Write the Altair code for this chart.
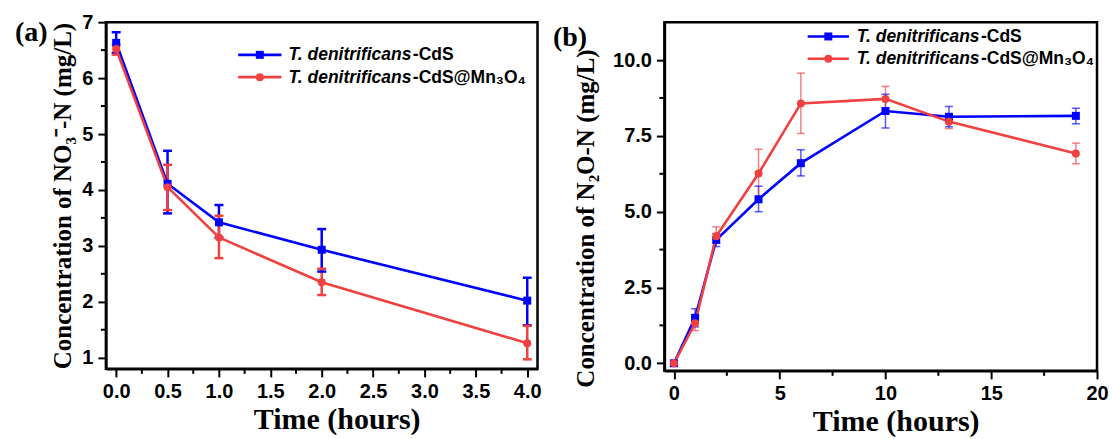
import altair as alt
import pandas as pd

# ---------------- data ----------------
series_names = ["T. denitrificans-CdS", "T. denitrificans-CdS@Mn₃O₄"]
legend_italic = "T. denitrificans"
legend_suffix = ["-CdS", "-CdS@Mn₃O₄"]
series_colors = ["#0000FF", "#F04040"]
series_shapes = ["square", "circle"]

# panel (a): NO3- -N
a_time = [0, 0.5, 1, 2, 4]
a_cds = [6.63, 4.11, 3.42, 2.93, 2.02]
a_cds_lo = [6.45, 3.58, 3.15, 2.54, 1.58]
a_cds_hi = [6.82, 4.70, 3.73, 3.30, 2.43]
a_mn = [6.52, 4.05, 3.15, 2.35, 1.26]
a_mn_lo = [6.42, 3.64, 2.78, 2.12, 0.97]
a_mn_hi = [6.60, 4.45, 3.54, 2.59, 1.57]

# panel (b): N2O-N
b_time = [0, 1, 2, 4, 6, 10, 13, 19]
b_cds = [0.0, 1.50, 4.07, 5.41, 6.60, 8.32, 8.13, 8.16]
b_cds_lo = [-0.08, 1.20, 3.85, 5.00, 6.18, 7.76, 7.80, 7.90]
b_cds_hi = [0.08, 1.80, 4.28, 5.84, 7.04, 8.87, 8.47, 8.41]
b_mn = [0.0, 1.32, 4.19, 6.26, 8.57, 8.72, 7.97, 6.92]
b_mn_lo = [-0.06, 1.08, 3.95, 5.46, 7.58, 8.30, 7.74, 6.58]
b_mn_hi = [0.06, 1.56, 4.50, 7.06, 9.57, 9.13, 8.22, 7.26]

# tick values
a_x_major = [0, 0.5, 1.0, 1.5, 2.0, 2.5, 3.0, 3.5, 4.0]
a_x_minor = [0.25, 0.75, 1.25, 1.75, 2.25, 2.75, 3.25, 3.75]
a_y_major = [1, 2, 3, 4, 5, 6, 7]
a_y_minor = [1.5, 2.5, 3.5, 4.5, 5.5, 6.5]
b_x_major = [0, 5, 10, 15, 20]
b_x_minor = [2.5, 7.5, 12.5, 17.5]
b_y_major = [0, 2.5, 5.0, 7.5, 10.0]
b_y_minor = [1.25, 3.75, 6.25, 8.75]

a_y_title = "Concentration of NO₃⁻-N (mg/L)"
b_y_title = "Concentration of N₂O-N (mg/L)"
x_title = "Time (hours)"
panel_tags = ["(a)", "(b)"]


def long_df(t, s1, l1, h1, s2, l2, h2):
    rows = []
    for name, v, lo, hi in [(series_names[0], s1, l1, h1), (series_names[1], s2, l2, h2)]:
        for i in range(len(t)):
            rows.append({"t": t[i], "v": v[i], "lo": lo[i], "hi": hi[i], "s": name})
    return pd.DataFrame(rows)


def panel(df, xdom, ydom, xmajor, xminor, ymajor, yminor, xfmt, yfmt, w, h,
          ytitle, ytitle_y, ytitle_pad, err_w, err_op, cap_size,
          tag, tag_x, tag_y, leg_x1, leg_x2, leg_y, text_x):
    xaxis = alt.Axis(
        values=xmajor, format=xfmt, tickSize=8,
        title=x_title, titleFontSize=30, titleX=w / 2 + 15, titlePadding=3,
        labelPadding=5, labelFlush=False, labelOverlap=False, grid=False,
    )
    yaxis = alt.Axis(
        values=ymajor, format=yfmt, tickSize=8,
        title=ytitle, titleFontSize=25, titleY=ytitle_y, titlePadding=ytitle_pad,
        labelPadding=5, labelFlush=False, labelOverlap=False, grid=False,
    )
    xs = alt.Scale(domain=xdom, nice=False, zero=False)
    ys = alt.Scale(domain=ydom, nice=False, zero=False)

    def X():
        return alt.X("t:Q", scale=xs, axis=xaxis)

    def Y(f):
        return alt.Y(f"{f}:Q", scale=ys, axis=yaxis)

    color = alt.Color("s:N", scale=alt.Scale(domain=series_names, range=series_colors), legend=None)
    shape = alt.Shape("s:N", scale=alt.Scale(domain=series_names, range=series_shapes), legend=None)

    base = alt.Chart(df)
    lines = base.mark_line(strokeWidth=2.6).encode(x=X(), y=Y("v"), color=color, order="t:Q")
    errs = base.mark_rule(strokeWidth=err_w, opacity=err_op).encode(x=X(), y=Y("lo"), y2="hi:Q", color=color)
    cap_lo = base.mark_point(shape="M-1,0L1,0", filled=False, size=cap_size, strokeWidth=err_w,
                             opacity=err_op).encode(x=X(), y=Y("lo"), color=color)
    cap_hi = base.mark_point(shape="M-1,0L1,0", filled=False, size=cap_size, strokeWidth=err_w,
                             opacity=err_op).encode(x=X(), y=Y("hi"), color=color)
    pts = base.mark_point(filled=True, size=64, opacity=1).encode(x=X(), y=Y("v"), color=color, shape=shape)

    # minor ticks (outward, shorter than the major ones)
    xminor_layer = alt.Chart(pd.DataFrame({"t": xminor})).mark_rule(color="black", strokeWidth=2).encode(
        x=X(), y=alt.value(h), y2=alt.value(h + 5))
    yminor_layer = alt.Chart(pd.DataFrame({"v": yminor})).mark_rule(color="black", strokeWidth=2).encode(
        y=Y("v"), x=alt.value(0), x2=alt.value(-5))

    one = pd.DataFrame({"k": [0]})
    legend_layers = []
    for i in range(2):
        yv = leg_y[i]
        legend_layers.append(
            alt.Chart(one).mark_rule(color=series_colors[i], strokeWidth=2.6).encode(
                x=alt.value(leg_x1), x2=alt.value(leg_x2), y=alt.value(yv)))
        legend_layers.append(
            alt.Chart(one).mark_point(color=series_colors[i], filled=True, opacity=1, size=64,
                                      shape=series_shapes[i]).encode(
                x=alt.value((leg_x1 + leg_x2) / 2), y=alt.value(yv)))
        legend_layers.append(
            alt.Chart(one).mark_text(align="left", baseline="middle", font="Liberation Sans",
                                     fontSize=17.5, fontWeight="bold", fontStyle="italic",
                                     color="black").encode(
                x=alt.value(text_x), y=alt.value(yv + 0.5), text=alt.value(legend_italic)))
        legend_layers.append(
            alt.Chart(one).mark_text(align="left", baseline="middle", font="Liberation Sans",
                                     fontSize=17.5, fontWeight="bold", color="black").encode(
                x=alt.value(text_x + 124.5), y=alt.value(yv + 0.5), text=alt.value(legend_suffix[i])))

    tag_layer = alt.Chart(one).mark_text(align="left", baseline="middle", font="Liberation Serif",
                                         fontSize=28, fontWeight="bold", color="black").encode(
        x=alt.value(tag_x), y=alt.value(tag_y), text=alt.value(tag))

    return alt.layer(errs, cap_lo, cap_hi, lines, pts, xminor_layer, yminor_layer,
                     *legend_layers, tag_layer).properties(width=w, height=h)


df_a = long_df(a_time, a_cds, a_cds_lo, a_cds_hi, a_mn, a_mn_lo, a_mn_hi)
df_b = long_df(b_time, b_cds, b_cds_lo, b_cds_hi, b_mn, b_mn_lo, b_mn_hi)

left = panel(df_a, [-0.1, 4.1], [0.8, 7], a_x_major, a_x_minor, a_y_major, a_y_minor, ".1f", ".0f", 432, 347,
             a_y_title, 173.5, 6, 2.5, 1.0, 81,
             panel_tags[0], -91, 11, 132.4, 175.7, [32.7, 55], 182.7)
right = panel(df_b, [-0.45, 20], [-0.25, 11.25], b_x_major, b_x_minor, b_y_major, b_y_minor, ".0f", ".1f", 433, 349,
              b_y_title, 196, 14, 1.5, 0.65, 64,
              panel_tags[1], -111.6, 16, 143.4, 184.7, [14.3, 36.6], 192.4)

chart = alt.hconcat(left, right, spacing=127, bounds="flush").properties(
    padding={"left": 13, "top": 10, "right": 2, "bottom": 0}
).configure_view(
    stroke="black", strokeWidth=2.5
).configure_axis(
    labelFont="Liberation Sans", labelFontWeight="bold", labelFontSize=20, labelColor="black",
    titleFont="Liberation Serif", titleFontWeight="bold", titleColor="black",
    domainColor="black", domainWidth=2.5, tickColor="black", tickWidth=2, grid=False,
)

chart.save("out.html", embed_options={"renderer": "svg", "actions": False})
